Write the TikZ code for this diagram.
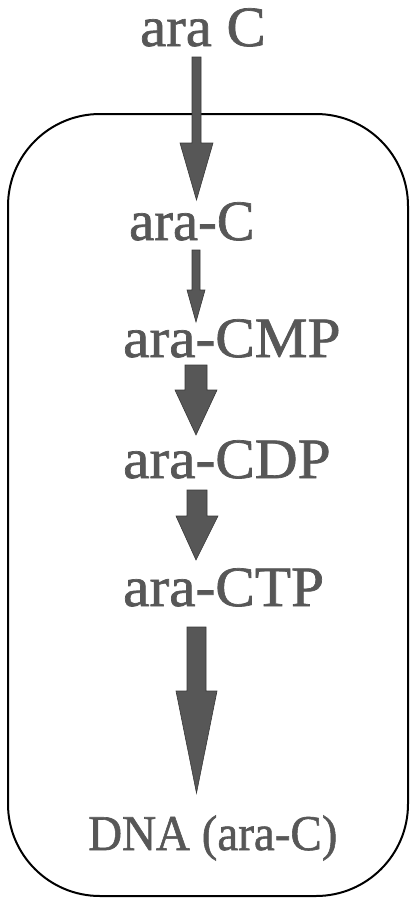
\documentclass[tikz,border=0pt]{standalone}
\usepackage{fontspec}
\usetikzlibrary{calc}
\newfontfamily\lblfont[FakeBold=1.2]{Liberation Serif}
\definecolor{inkgray}{gray}{0.34}
\definecolor{edgegray}{gray}{0.22}

% block arrow: start, tip, shaft half-width, head half-width, head length
\newcommand\blockarrow[5]{%
  \filldraw[arrowbody] let \p1=(#1), \p2=(#2) in
    (\x1-#3,\y1) -- (\x1+#3,\y1) -- (\x1+#3,\y2+#5) -- (\x1+#4,\y2+#5)
    -- (\x2,\y2) -- (\x1-#4,\y2+#5) -- (\x1-#3,\y2+#5) -- cycle;}

\begin{document}
\begin{tikzpicture}[x=1pt,y=-1pt,
  label/.style={anchor=base west,inner sep=0pt,text=inkgray,font=\lblfont},
  arrowbody/.style={fill=inkgray,draw=edgegray,line width=0.6pt,line join=miter},
  cellwall/.style={draw=black,line width=2pt,rounded corners=92pt}]
\useasboundingbox (0,0) rectangle (417,902);

% cell boundary
\draw[cellwall] (8,114) rectangle (408,896);

% metabolites
\node[label] (araout) at (140,46) {\fontsize{57}{60}\selectfont\scalebox{1.03}[1]{ara C}};
\node[label] (arain)  at (129,240) {\fontsize{57}{60}\selectfont\scalebox{0.99}[1]{ara-C}};
\node[label] (cmp)    at (123,357) {\fontsize{57}{60}\selectfont\scalebox{1.04}[1]{ara-CMP}};
\node[label] (cdp)    at (123,478) {\fontsize{57}{60}\selectfont\scalebox{1.04}[1]{ara-CDP}};
\node[label] (ctp)    at (123,606) {\fontsize{57}{60}\selectfont\scalebox{1.04}[1]{ara-CTP}};
\node[label] (dna)    at (88,850)  {\fontsize{50}{53}\selectfont\scalebox{0.94}[1]{DNA (ara-C)}};

% arrow end points
\coordinate (a1s) at (196.5,57);  \coordinate (a1e) at (196.5,200);
\coordinate (a2s) at (196,250);   \coordinate (a2e) at (196,322);
\coordinate (a3s) at (196,365);   \coordinate (a3e) at (196,435);
\coordinate (a4s) at (197,490);   \coordinate (a4e) at (196,560);
\coordinate (a5s) at (196.5,627); \coordinate (a5e) at (196.5,793);

\blockarrow{a1s}{a1e}{4.5pt}{16.5pt}{57pt}
\blockarrow{a2s}{a2e}{4pt}{9pt}{32pt}
\blockarrow{a3s}{a3e}{11pt}{21pt}{45pt}
\blockarrow{a4s}{a4e}{10pt}{21pt}{44pt}
\blockarrow{a5s}{a5e}{9.5pt}{20.5pt}{102pt}
\end{tikzpicture}
\end{document}
